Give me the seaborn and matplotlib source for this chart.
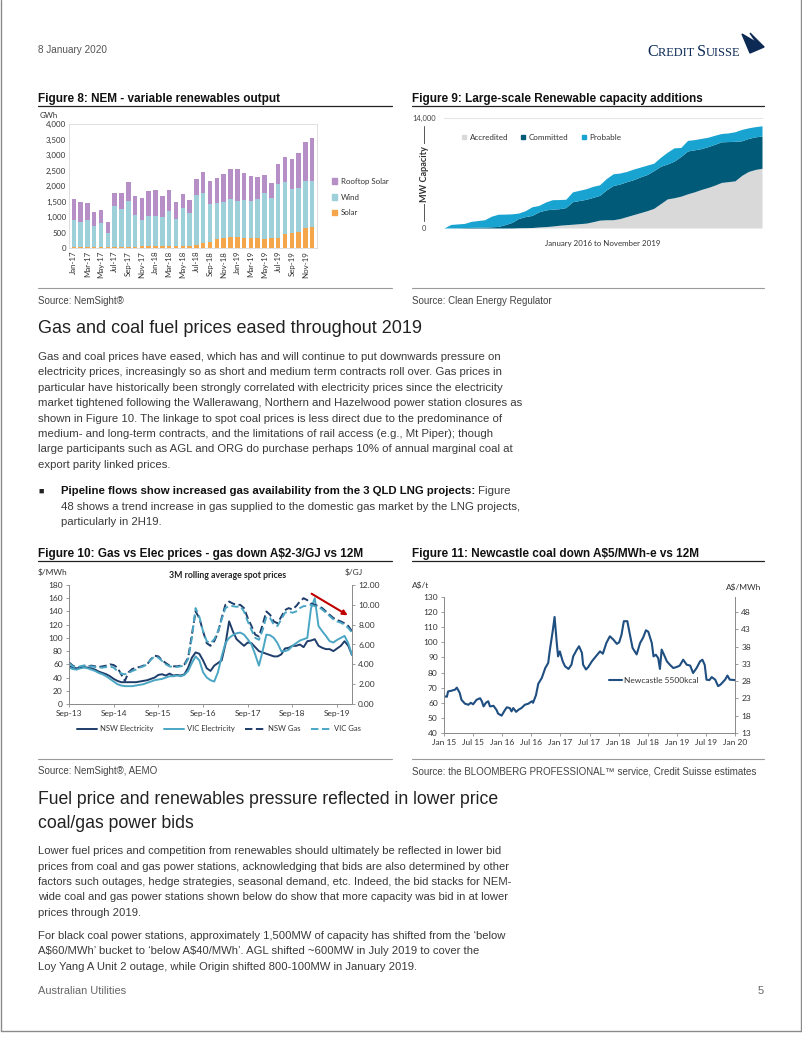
import matplotlib
matplotlib.use("Agg")
import matplotlib.pyplot as plt
import matplotlib.patches as mpatches
from matplotlib.lines import Line2D
import numpy as np
import seaborn as sns

W, H = 802, 1037

# ---------------- Figure 8 data (GWh) ----------------
months8 = ["Jan-17", "Feb-17", "Mar-17", "Apr-17", "May-17", "Jun-17", "Jul-17", "Aug-17", "Sep-17",
           "Oct-17", "Nov-17", "Dec-17", "Jan-18", "Feb-18", "Mar-18", "Apr-18", "May-18", "Jun-18",
           "Jul-18", "Aug-18", "Sep-18", "Oct-18", "Nov-18", "Dec-18", "Jan-19", "Feb-19", "Mar-19",
           "Apr-19", "May-19", "Jun-19", "Jul-19", "Aug-19", "Sep-19", "Oct-19", "Nov-19", "Dec-19"]
solar8 = [30, 30, 35, 35, 30, 25, 40, 40, 45, 45, 50, 55,
          55, 55, 60, 55, 55, 55, 110, 150, 200, 280, 330, 360,
          370, 320, 330, 320, 300, 310, 330, 450, 480, 520, 630, 690]
wind8 = [870, 810, 865, 675, 790, 465, 1315, 1215, 1465, 1005, 855, 975,
         975, 960, 1130, 895, 1245, 1060, 1605, 1640, 1230, 1185, 1160, 1225,
         1140, 1220, 1190, 1255, 1470, 1295, 1735, 1690, 1430, 1415, 1545, 1485]
rooftop8 = [685, 635, 550, 460, 405, 350, 415, 515, 620, 630, 700, 795,
            850, 665, 670, 550, 450, 435, 515, 670, 730, 785, 900, 975,
            1025, 885, 810, 720, 580, 505, 635, 800, 975, 1125, 1235, 1375]
series8 = ["Rooftop Solar", "Wind", "Solar"]

# ---------------- Figure 9 data (MW, Jan 2016 - Nov 2019) ----------------
accredited9 = [0, 0, 0, 0, 0, 0, 0, 0, 0, 0, 0, 30, 40, 60, 130, 180, 250, 350, 420, 480, 550, 620,
               800, 1000, 1050, 1050, 1200, 1450, 1700, 1950, 2200, 2500, 3100, 3700, 3850, 4050,
               4350, 4600, 4900, 5150, 5450, 5800, 5900, 6000, 6700, 7200, 7450, 7600]
committed9 = [0, 20, 30, 50, 80, 100, 120, 150, 200, 420, 700, 1170, 1410, 1540, 1920, 2120, 2150,
              2100, 2180, 2870, 2950, 3030, 3100, 3150, 3800, 4350, 4400, 4450, 4450, 4550, 4600,
              4800, 4750, 4450, 4650, 5050, 5450, 5350, 5200, 5200, 5200, 5170, 5100, 5030, 4400,
              4200, 4150, 4100]
probable9 = [0, 430, 490, 530, 760, 850, 930, 1350, 1550, 1350, 1100, 700, 750, 1100, 820, 1000,
             1200, 1170, 1060, 1250, 1300, 1350, 1400, 1350, 1450, 1500, 1400, 1300, 1350, 1250,
             1200, 950, 1150, 1500, 1700, 1150, 1350, 1300, 1300, 1200, 1150, 1060, 1100, 1220,
             1450, 1350, 1300, 1300]
series9 = ["Accredited", "Committed", "Probable"]

# ---------------- Figure 10 data (monthly, Sep-13 .. Jan-20) ----------------
nsw_elec = [57, 55, 54, 55, 56, 55, 54, 52, 49, 47,
            45, 42, 38, 35, 33, 33, 33, 33, 33, 34,
            35, 36, 38, 40, 44, 45, 43, 46, 43, 44,
            43, 45, 55, 70, 78, 76, 66, 54, 50, 58,
            62, 66, 90, 125, 110, 98, 93, 88, 93, 92,
            86, 80, 78, 76, 74, 72, 72, 75, 84, 85,
            88, 88, 90, 86, 95, 96, 98, 88, 85, 83,
            83, 80, 84, 88, 95, 88, 74]
vic_elec = [55, 53, 52, 54, 55, 54, 52, 50, 47, 45,
            42, 38, 34, 30, 28, 27, 27, 27, 28, 29,
            30, 32, 34, 36, 37, 38, 40, 42, 42, 43,
            42, 44, 50, 62, 72, 66, 48, 40, 36, 34,
            48, 72, 92, 100, 104, 107, 108, 105, 98, 90,
            75, 58, 80, 105, 104, 100, 92, 80, 80, 82,
            88, 92, 96, 98, 100, 145, 160, 118, 110, 103,
            95, 93, 97, 100, 103, 92, 74]
nsw_gas = [4.20, 3.87, 3.67, 3.73, 3.87, 3.80, 3.87, 3.80, 3.73, 3.80,
           3.87, 4.00, 3.93, 3.67, 3.00, 2.33, 3.20, 3.53, 3.67, 3.73,
           3.87, 4.00, 4.53, 4.87, 4.80, 4.40, 4.13, 3.87, 3.80, 3.80,
           3.87, 4.00, 4.67, 7.00, 9.33, 8.67, 7.33, 6.13, 5.87, 6.33,
           7.20, 8.67, 10.00, 10.33, 10.13, 10.00, 10.00, 9.67, 8.67, 7.87,
           7.00, 6.80, 8.00, 9.33, 9.00, 8.33, 8.13, 8.80, 9.47, 9.67,
           9.53, 9.87, 10.33, 10.67, 10.47, 10.13, 10.00, 9.87, 9.67, 9.33,
           9.00, 8.67, 8.47, 8.33, 8.13, 7.87, 7.33]
vic_gas = [4.13, 3.80, 3.67, 3.80, 3.87, 3.80, 3.80, 3.73, 3.67, 3.67,
           3.73, 3.80, 3.67, 3.33, 3.07, 3.00, 3.13, 3.33, 3.47, 3.67,
           3.80, 4.00, 4.47, 4.80, 4.67, 4.33, 4.00, 3.80, 3.73, 3.73,
           3.80, 3.87, 4.53, 6.67, 9.67, 8.80, 7.33, 6.33, 6.13, 6.53,
           7.33, 8.53, 9.67, 9.87, 9.87, 9.80, 9.87, 9.33, 8.33, 7.47,
           6.67, 6.47, 7.47, 8.80, 8.67, 8.00, 7.87, 8.53, 9.20, 9.33,
           9.20, 9.33, 9.67, 9.87, 9.87, 10.00, 9.87, 9.80, 9.53, 9.20,
           8.87, 8.53, 8.33, 8.20, 8.00, 7.67, 7.20]
xlabels10 = ["Sep-13", "Sep-14", "Sep-15", "Sep-16", "Sep-17", "Sep-18", "Sep-19"]
series10 = ["NSW Electricity", "VIC Electricity", "NSW Gas", "VIC Gas"]

# ---------------- Figure 11 data (Newcastle 5500kcal, A$/t) ----------------
coal_t = [2015.00, 2015.05, 2015.07, 2015.13, 2015.19, 2015.22, 2015.25, 2015.27, 2015.30, 2015.36,
          2015.42, 2015.46, 2015.50, 2015.56, 2015.62, 2015.65, 2015.68, 2015.72, 2015.76, 2015.79,
          2015.85, 2015.90, 2015.93, 2015.99, 2016.05, 2016.08, 2016.13, 2016.16, 2016.19, 2016.24,
          2016.28, 2016.33, 2016.39, 2016.45, 2016.51, 2016.53, 2016.58, 2016.62, 2016.68, 2016.74,
          2016.79, 2016.82, 2016.87, 2016.90, 2016.94, 2016.96, 2016.99, 2017.04, 2017.08, 2017.14,
          2017.19, 2017.22, 2017.28, 2017.32, 2017.37, 2017.39, 2017.44, 2017.48, 2017.54, 2017.62,
          2017.68, 2017.73, 2017.79, 2017.85, 2017.91, 2017.97, 2018.01, 2018.05, 2018.09, 2018.15,
          2018.20, 2018.24, 2018.31, 2018.37, 2018.42, 2018.47, 2018.51, 2018.57, 2018.60, 2018.64,
          2018.68, 2018.71, 2018.74, 2018.78, 2018.83, 2018.88, 2018.94, 2019.00, 2019.05, 2019.11,
          2019.17, 2019.23, 2019.28, 2019.34, 2019.40, 2019.44, 2019.48, 2019.51, 2019.56, 2019.60,
          2019.66, 2019.71, 2019.75, 2019.83, 2019.87, 2019.91, 2020.00]
coal_v = [64.3, 64.0, 67.5, 68.0, 68.7, 70.0, 68.0, 66.5, 62.0, 59.4,
          58.7, 60.0, 59.0, 62.0, 63.0, 61.0, 57.6, 60.0, 61.0, 57.6,
          58.0, 55.4, 52.8, 51.5, 55.4, 57.0, 56.5, 54.3, 56.5, 54.0,
          55.4, 56.5, 58.7, 59.4, 61.0, 60.0, 65.0, 72.6, 76.4, 83.0,
          86.3, 95.2, 108.0, 116.8, 98.5, 90.7, 94.0, 87.4, 84.1, 82.4,
          85.2, 90.7, 95.0, 97.4, 93.0, 85.2, 82.0, 83.7, 87.4, 91.2,
          94.0, 92.5, 99.6, 104.0, 101.8, 99.0, 100.0, 105.0, 114.0, 114.0,
          104.0, 96.3, 92.0, 99.6, 103.0, 108.0, 107.0, 99.6, 90.7, 91.8,
          89.6, 82.4, 95.2, 91.8, 87.4, 85.2, 83.0, 83.7, 84.6, 88.5,
          85.2, 84.6, 79.7, 83.0, 87.4, 88.5, 85.0, 75.3, 75.0, 77.0,
          75.3, 71.0, 72.0, 75.3, 78.0, 75.3, 75.0]
xlabels11 = ["Jan 15", "Jul 15", "Jan 16", "Jul 16", "Jan 17", "Jul 17", "Jan 18", "Jul 18",
             "Jan 19", "Jul 19", "Jan 20"]

# ---------------- style ----------------
sns.set_theme(style="white")
plt.rcParams["font.family"] = ["Liberation Sans", "DejaVu Sans"]
plt.rcParams["text.parse_math"] = False
CH = ["Lato", "DejaVu Sans"]          # chart font (Calibri-like)
TXT = "#3a3a3a"
BODY = 8.2
BODY2 = 8.15

C_ROOF, C_WIND, C_SOLAR = "#b58fc6", "#9dd0d8", "#f5a54a"
C_ACC, C_COM, C_PROB = "#d9d9d9", "#005a78", "#18a3d0"
C_NSW, C_VIC = "#1f3d6b", "#4ba6c4"
C_COAL = "#1f4e80"
CS_BLUE = "#0d2a55"

fig = plt.figure(figsize=(W / 100, H / 100), dpi=100)


def fx(x):
    return x / W


def fy(y):
    return 1 - y / H


def rect(l, t, r, b):
    return [l / W, 1 - b / H, (r - l) / W, (b - t) / H]


def ftext(x, y, s, **kw):
    kw.setdefault("va", "center")
    kw.setdefault("color", TXT)
    return fig.text(fx(x), fy(y), s, **kw)


def chain(x, y, parts, **kw):
    """Draw text pieces one after the other on the same baseline."""
    ren = fig.canvas.get_renderer()
    cur = x
    for s, extra in parts:
        opts = dict(kw)
        opts.update(extra)
        t = ftext(cur, y, s, va="baseline", **opts)
        bb = t.get_window_extent(ren)
        cur = bb.x1
    return cur


def hline(x0, x1, y, color="#222222", lw=0.9):
    fig.add_artist(Line2D([fx(x0), fx(x1)], [fy(y), fy(y)], color=color, lw=lw))


fig.canvas.draw()

# page frame
fig.add_artist(Line2D([fx(0.5), fx(0.5)], [fy(0), fy(1031)], color="#8a8a8a", lw=1))
fig.add_artist(Line2D([fx(801), fx(801)], [fy(0), fy(1031)], color="#8a8a8a", lw=1))
fig.add_artist(Line2D([fx(0.5), fx(801)], [fy(1031), fy(1031)], color="#8a8a8a", lw=1))

# header
ftext(38, 50, "8 January 2020", fontsize=7.2, color="#555555")
serif = ["Liberation Serif", "DejaVu Serif"]
chain(647, 56, [("C", {"fontsize": 11.5}), ("REDIT ", {"fontsize": 8.9}),
                ("S", {"fontsize": 11.5}), ("UISSE", {"fontsize": 8.9})],
      color=CS_BLUE, family=serif)
fig.add_artist(mpatches.Polygon([(fx(742), fy(34)), (fx(750), fy(53)), (fx(764), fy(47))],
                                closed=True, color=CS_BLUE, transform=fig.transFigure))
fig.add_artist(mpatches.Polygon([(fx(750), fy(33)), (fx(758), fy(45)), (fx(764), fy(47))],
                                closed=True, color=CS_BLUE, transform=fig.transFigure))

# ---------------- Figure 8 ----------------
ftext(38, 99, "Figure 8: NEM - variable renewables output", fontsize=8.5, weight="bold", color="#111111")
hline(38, 392, 106)
ax8 = fig.add_axes(rect(69, 124, 317, 248))
s8 = np.array(solar8)
w8 = s8 + np.array(wind8)
t8 = w8 + np.array(rooftop8)
for vals, col in [(t8, C_ROOF), (w8, C_WIND), (s8, C_SOLAR)]:
    sns.barplot(x=months8, y=vals, order=months8, color=col, saturation=1, width=0.66,
                linewidth=0, ax=ax8)
ax8.set_ylim(0, 4000)
ax8.set_xlim(-0.7, 35.7)
ax8.set_yticks(range(0, 4001, 500))
ax8.set_yticklabels([f"{v:,}" for v in range(0, 4001, 500)], fontsize=5.7, family=CH, color="#333")
ax8.set_xticks(range(0, 36, 2))
ax8.set_xticklabels(months8[::2], rotation=90, fontsize=5.7, family=CH, color="#333")
ax8.set_xlabel("")
ax8.set_ylabel("")
ax8.tick_params(length=0, pad=2)
for sp in ax8.spines.values():
    sp.set_color("#d9d9d9")
    sp.set_linewidth(0.6)
ftext(40, 115, "GWh", fontsize=5.7, family=CH, color="#333")
h8 = [mpatches.Patch(color=c, label=l) for c, l in zip([C_ROOF, C_WIND, C_SOLAR], series8)]
leg = ax8.legend(handles=h8, loc="center left", bbox_to_anchor=(1.03, 0.41), frameon=False,
                 prop={"family": CH, "size": 5.7}, handlelength=0.7, handleheight=0.7,
                 labelspacing=1.1, handletextpad=0.5)
for t in leg.get_texts():
    t.set_color("#333")
hline(38, 392, 288, color="#9a9a9a", lw=0.8)
ftext(38, 301, "Source: NemSight®", fontsize=7.0, color="#444")

# ---------------- Figure 9 ----------------
ftext(412, 99, "Figure 9: Large-scale Renewable capacity additions", fontsize=8.45, weight="bold",
      color="#111111")
hline(412, 764, 106)
ax9 = fig.add_axes(rect(444, 118, 762, 228))
x9 = np.arange(len(accredited9))
ax9.stackplot(x9, accredited9, committed9, probable9, colors=[C_ACC, C_COM, C_PROB],
              labels=series9, linewidth=0)
ax9.set_xlim(0, len(x9) - 1)
ax9.set_ylim(0, 14000)
ax9.set_xticks([])
ax9.set_yticks([0, 14000])
ax9.set_yticklabels(["0", "14,000"], fontsize=5.4, family=CH, color="#444", ha="center")
ax9.tick_params(axis="y", length=0, pad=14.5)
for k in ["left", "bottom", "right"]:
    ax9.spines[k].set_visible(False)
ax9.spines["top"].set_color("#e6e6e6")
ax9.spines["top"].set_linewidth(0.8)
ax9.text(0.5, -0.145, "January 2016 to November 2019", transform=ax9.transAxes, ha="center",
         va="center", fontsize=5.7, family=CH, color="#333")
fig.add_artist(Line2D([fx(424), fx(424)], [fy(126), fy(221)], color="#555", lw=0.7))
ftext(424, 174, "MW Capacity", rotation=90, ha="center", fontsize=6.6, family=CH, color="#333",
      weight="bold", bbox=dict(facecolor="white", edgecolor="none", pad=1.5))
h9 = [Line2D([], [], marker="s", linestyle="none", markersize=3.5, color=c, label=l)
      for c, l in zip([C_ACC, C_COM, C_PROB], series9)]
leg = ax9.legend(handles=h9, loc="center left", bbox_to_anchor=(0.03, 0.82), frameon=False, ncol=3,
                 prop={"family": CH, "size": 5.8}, handlelength=0.8, handletextpad=0.3,
                 columnspacing=1.5)
for t in leg.get_texts():
    t.set_color("#333")
hline(412, 764, 288, color="#9a9a9a", lw=0.8)
ftext(412, 301, "Source: Clean Energy Regulator", fontsize=7.0, color="#444")

# ---------------- text block 1 ----------------
ftext(38, 329, "Gas and coal fuel prices eased throughout 2019", fontsize=13, color="#222")
para1 = [
    "Gas and coal prices have eased, which has and will continue to put downwards pressure on",
    "electricity prices, increasingly so as short and medium term contracts roll over. Gas prices in",
    "particular have historically been strongly correlated with electricity prices since the electricity",
    "market tightened following the Wallerawang, Northern and Hazelwood power station closures as",
    "shown in Figure 10. The linkage to spot coal prices is less direct due to the predominance of",
    "medium- and long-term contracts, and the limitations of rail access (e.g., Mt Piper); though",
    "large participants such as AGL and ORG do purchase perhaps 10% of annual marginal coal at",
    "export parity linked prices.",
]
for i, line in enumerate(para1):
    ftext(38, 357 + i * 15.4, line, fontsize=BODY)
ftext(38, 491, "■", fontsize=6.5, color="#222")
b1 = ftext(61, 491, "Pipeline flows show increased gas availability from the 3 QLD LNG projects:",
           fontsize=BODY, weight="bold", color="#111")
bb = b1.get_window_extent(fig.canvas.get_renderer())
fig.text(bb.x1 / W, fy(491), " Figure", fontsize=BODY, va="center", color=TXT)
ftext(61, 507, "48 shows a trend increase in gas supplied to the domestic gas market by the LNG projects,",
      fontsize=BODY)
ftext(61, 522, "particularly in 2H19.", fontsize=BODY)

# ---------------- Figure 10 ----------------
ftext(38, 554, "Figure 10: Gas vs Elec prices - gas down A$2-3/GJ vs 12M", fontsize=8.5, weight="bold",
      color="#111111")
hline(38, 392, 561)
ax10 = fig.add_axes(rect(69, 585, 352, 704))
ax10r = ax10.twinx()
m10 = np.arange(len(nsw_elec))
DASH = (0, (3.8, 1.8))
sns.lineplot(x=m10, y=nsw_elec, ax=ax10, color=C_NSW, lw=1.4, legend=False)
sns.lineplot(x=m10, y=vic_elec, ax=ax10, color=C_VIC, lw=1.4, legend=False)
sns.lineplot(x=m10, y=nsw_gas, ax=ax10r, color=C_NSW, lw=1.4, linestyle=DASH, legend=False)
sns.lineplot(x=m10, y=vic_gas, ax=ax10r, color=C_VIC, lw=1.4, linestyle=DASH, legend=False)
ax10.set_xlim(0, len(m10) - 1)
ax10.set_ylim(0, 180)
ax10r.set_ylim(0, 12)
ax10.set_xticks(range(0, 73, 12))
ax10.set_xticklabels(xlabels10, fontsize=6, family=CH, color="#333")
ax10.set_yticks(range(0, 181, 20))
ax10.set_yticklabels([str(v) for v in range(0, 181, 20)], fontsize=6, family=CH, color="#333")
ax10r.set_yticks(range(0, 13, 2))
ax10r.set_yticklabels([f"{v:.2f}" for v in range(0, 13, 2)], fontsize=6, family=CH, color="#333")
for a in (ax10, ax10r):
    a.set_xlabel("")
    a.set_ylabel("")
    a.spines["top"].set_visible(False)
    for k in ["left", "right", "bottom"]:
        a.spines[k].set_color("#8c8c8c")
        a.spines[k].set_linewidth(0.7)
    a.tick_params(length=2.5, width=0.6, color="#8c8c8c", pad=2)
ax10.tick_params(axis="both", direction="out", left=True, bottom=True)
ax10r.tick_params(axis="y", direction="out", right=True)
ax10.annotate("", xy=(75.5, 132), xytext=(64.5, 169),
              arrowprops=dict(arrowstyle="-|>", color="#c00000", lw=1.5, mutation_scale=7))
ftext(38, 572, "$/MWh", fontsize=6, family=CH, color="#333")
ftext(345, 572, "$/GJ", fontsize=6, family=CH, color="#333")
ftext(228, 575, "3M rolling average spot prices", fontsize=6.3, family=CH, weight="bold", color="#222",
      ha="center")
h10 = [Line2D([], [], color=C_NSW, lw=1.4), Line2D([], [], color=C_VIC, lw=1.4),
       Line2D([], [], color=C_NSW, lw=1.4, linestyle=DASH),
       Line2D([], [], color=C_VIC, lw=1.4, linestyle=DASH)]
leg = ax10.legend(h10, series10, loc="center", bbox_to_anchor=(0.53, -0.21), ncol=4, frameon=False,
                  prop={"family": CH, "size": 5.5}, handlelength=2.6, handletextpad=0.4,
                  columnspacing=1.4)
for t in leg.get_texts():
    t.set_color("#333")
hline(38, 392, 759, color="#9a9a9a", lw=0.8)
ftext(38, 771, "Source: NemSight®, AEMO", fontsize=7.0, color="#444")

# ---------------- Figure 11 ----------------
ftext(412, 554, "Figure 11: Newcastle coal down A$5/MWh-e vs 12M", fontsize=8.45, weight="bold",
      color="#111111")
hline(412, 764, 561)
ax11 = fig.add_axes(rect(444, 597, 735, 733))
ax11r = ax11.twinx()
sns.lineplot(x=coal_t, y=coal_v, ax=ax11, color=C_COAL, lw=1.5, label="Newcastle 5500kcal")
ax11.set_xlim(2015, 2020)
ax11.set_ylim(40, 130)
ax11r.set_ylim(13, 13 + 90 * 35 / 80)
ax11.set_xticks(np.arange(len(xlabels11)) * 0.5 + 2015)
ax11.set_xticklabels(xlabels11, fontsize=6, family=CH, color="#333")
ax11.set_yticks(range(40, 131, 10))
ax11.set_yticklabels([str(v) for v in range(40, 131, 10)], fontsize=6, family=CH, color="#333")
ax11r.set_yticks(range(13, 49, 5))
ax11r.set_yticklabels([str(v) for v in range(13, 49, 5)], fontsize=6, family=CH, color="#333")
for a in (ax11, ax11r):
    a.set_xlabel("")
    a.set_ylabel("")
    a.spines["top"].set_visible(False)
    for k in ["left", "right", "bottom"]:
        a.spines[k].set_color("#8c8c8c")
        a.spines[k].set_linewidth(0.7)
    a.tick_params(length=2.5, width=0.6, color="#8c8c8c", pad=2)
ax11.tick_params(axis="both", direction="out", left=True, bottom=True)
ax11r.tick_params(axis="y", direction="out", right=True)
leg = ax11.legend(loc="center left", bbox_to_anchor=(0.54, 0.385), frameon=False,
                  prop={"family": CH, "size": 6}, handlelength=1.6, handletextpad=0.3)
for t in leg.get_texts():
    t.set_color("#333")
ftext(412, 585, "A$/t", fontsize=6, family=CH, color="#333")
ftext(726, 587, "A$/MWh", fontsize=6, family=CH, color="#333")
hline(412, 764, 759, color="#9a9a9a", lw=0.8)
ftext(412, 771, "Source: the BLOOMBERG PROFESSIONAL™ service, Credit Suisse estimates", fontsize=7.0,
      color="#444")

# ---------------- text block 2 ----------------
ftext(38, 800, "Fuel price and renewables pressure reflected in lower price", fontsize=12.7, color="#222")
ftext(38, 824, "coal/gas power bids", fontsize=12.7, color="#222")
para2 = [
    "Lower fuel prices and competition from renewables should ultimately be reflected in lower bid",
    "prices from coal and gas power stations, acknowledging that bids are also determined by other",
    "factors such outages, hedge strategies, seasonal demand, etc. Indeed, the bid stacks for NEM-",
    "wide coal and gas power stations shown below do show that more capacity was bid in at lower",
    "prices through 2019.",
]
for i, line in enumerate(para2):
    ftext(38, 851 + i * 15.5, line, fontsize=BODY2)
para3 = [
    "For black coal power stations, approximately 1,500MW of capacity has shifted from the \u2018below",
    "A$60/MWh\u2019 bucket to \u2018below A$40/MWh\u2019. AGL shifted ~600MW in July 2019 to cover the",
    "Loy Yang A Unit 2 outage, while Origin shifted 800-100MW in January 2019.",
]
for i, line in enumerate(para3):
    ftext(38, 936 + i * 15.5, line, fontsize=BODY2)
ftext(38, 991, "Australian Utilities", fontsize=7.9, color="#666")
ftext(764, 991, "5", fontsize=8, color="#666", ha="right")

fig.savefig("out.png", dpi=100)
